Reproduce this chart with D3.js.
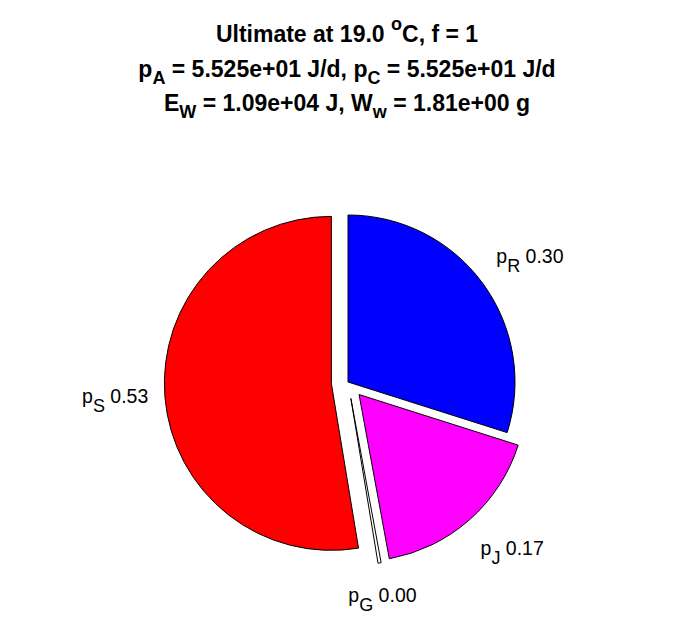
<!DOCTYPE html>
<html>
<head>
<meta charset="utf-8">
<script src="https://cdn.jsdelivr.net/npm/d3@7"></script>
<style>
  html, body { margin: 0; padding: 0; background: #ffffff; }
  svg { display: block; }
  text { font-family: "Liberation Sans", Arial, Helvetica, sans-serif; }
</style>
</head>
<body>
<svg id="chart" width="696" height="618"></svg>
<script>
// ---- data ----
const categories = ["R", "J", "G", "S"];            // subscripts of p_X
const values     = [0.299, 0.172, 0.003, 0.526];     // fractions of p_C
const colors     = ["#0000ff", "#ff00ff", "#ffffff", "#ff0000"];
const explode    = [0, 1, 1, 1];
const titleLine1 = [{t: "Ultimate at 19.0 "}, {t: "o", sup: true}, {t: "C, f = 1"}];
const titleLine2 = [{t: "p"}, {t: "A", sub: true}, {t: " = 5.525e+01 J/d, p"}, {t: "C", sub: true}, {t: " = 5.525e+01 J/d"}];
const titleLine3 = [{t: "E"}, {t: "W", sub: true}, {t: " = 1.09e+04 J, W"}, {t: "w", sub: true}, {t: " = 1.81e+00 g"}];

// ---- layout ----
const W = 696, H = 618;
const cx = 348, cy = 382, R = 167;
const explodeFrac = 0.1, labelFrac = 1.1;

const svg = d3.select("#chart");
svg.append("rect").attr("width", W).attr("height", H).attr("fill", "#ffffff");

// title
const titleLines = [titleLine1, titleLine2, titleLine3];
const titleBase = [42, 77, 111];
titleLines.forEach((parts, i) => {
  const t = svg.append("text")
    .attr("x", 347).attr("y", titleBase[i])
    .attr("text-anchor", "middle")
    .attr("font-weight", "bold")
    .attr("font-size", 23)
    .attr("fill", "#000");
  let shift = 0;
  parts.forEach(p => {
    let target = 0, size = 23;
    if (p.sub) { target = 7; size = 18; }
    if (p.sup) { target = -12; size = 18; }
    t.append("tspan")
      .attr("dy", target - shift)
      .attr("font-size", size)
      .text(p.t);
    shift = target;
  });
});

// pie
const pie = d3.pie().sort(null).value(d => d);
const arcs = pie(values);
const arc = d3.arc().innerRadius(0).outerRadius(R);

const g = svg.append("g").attr("transform", `translate(${cx},${cy})`);

arcs.forEach((a, i) => {
  const mid = (a.startAngle + a.endAngle) / 2;
  const dx = Math.sin(mid), dy = -Math.cos(mid);
  const off = explode[i] ? explodeFrac * R : 0;
  const ox = dx * off, oy = dy * off;

  g.append("path")
    .attr("d", arc(a))
    .attr("transform", `translate(${ox},${oy})`)
    .attr("fill", colors[i])
    .attr("stroke", "#000")
    .attr("stroke-width", 1)
    .attr("stroke-linejoin", "miter");

  // label
  const lx = ox + dx * labelFrac * R;
  const ly = oy + dy * labelFrac * R;
  let anchor = "middle";
  if (dx > 0.3) anchor = "start"; else if (dx < -0.3) anchor = "end";
  let base = ly + 5;
  if (dy < -0.3) base = ly - 10.7; else if (dy > 0.3) base = ly + 23;

  const t = g.append("text")
    .attr("x", lx).attr("y", base)
    .attr("text-anchor", anchor)
    .attr("font-size", 19.5)
    .attr("fill", "#000");
  t.append("tspan").text("p");
  t.append("tspan").attr("dy", 9).attr("font-size", 18).text(categories[i]);
  t.append("tspan").attr("dy", -9).text(" " + values[i].toFixed(2));
});
</script>
</body>
</html>
